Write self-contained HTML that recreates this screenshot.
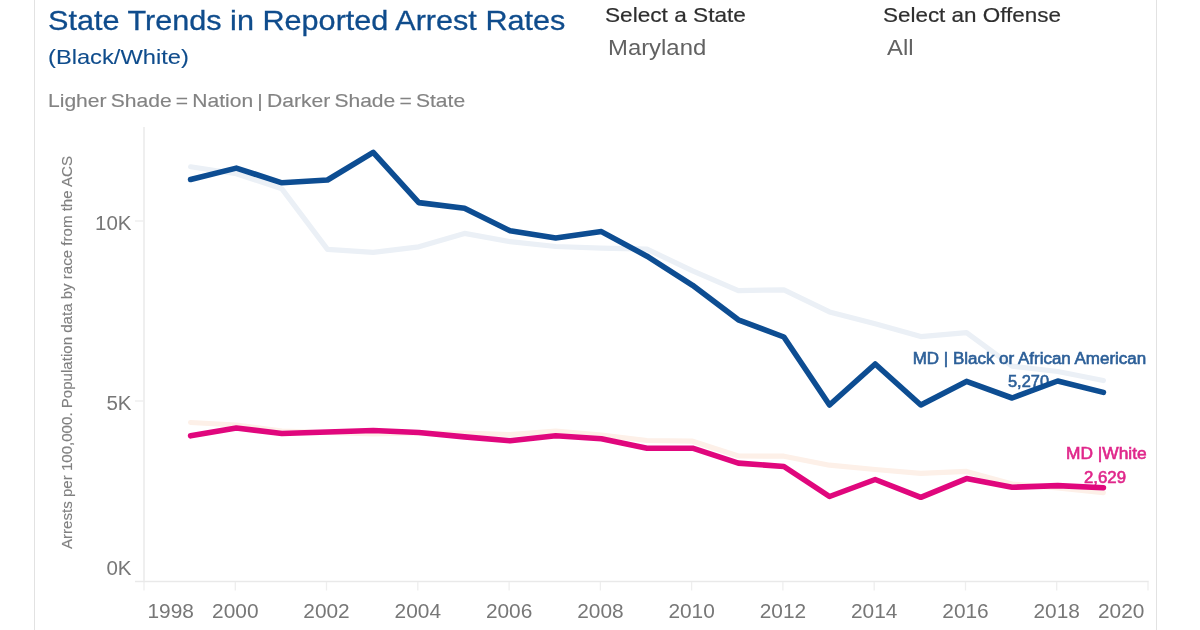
<!DOCTYPE html>
<html lang="en">
<head>
<meta charset="utf-8">
<title>State Trends in Reported Arrest Rates</title>
<style>
html,body{margin:0;padding:0;background:#fff;}
body{width:1200px;height:630px;overflow:hidden;position:relative;font-family:"Liberation Sans",Arial,sans-serif;}
.frame{position:absolute;left:34px;top:-2px;width:1122.5px;height:640px;border-left:1.5px solid #e2e2e2;border-right:1.5px solid #e2e2e2;box-sizing:border-box;}
.t{position:absolute;white-space:nowrap;line-height:1;margin:0;font-weight:400;transform-origin:0 0;}
#title{left:47.68px;top:5.92px;font-size:28.5px;color:#0f4c8c;-webkit-text-stroke:0.3px #0f4c8c;transform:scaleX(1.0743);}
#subtitle{left:47.62px;top:46.00px;font-size:21px;color:#0f4c8c;-webkit-text-stroke:0.1px #0f4c8c;transform:scaleX(1.1280);}
#legend{left:47.64px;top:90.94px;font-size:19px;color:#838383;word-spacing:-1.5px;-webkit-text-stroke:0.15px #838383;transform:scaleX(1.1084);}
#f1l{left:604.92px;top:4.36px;font-size:21px;color:#2e2e2e;-webkit-text-stroke:0.2px #2e2e2e;transform:scaleX(1.0775);}
#f1v{left:608.38px;top:37.53px;font-size:21.5px;color:#626262;transform:scaleX(1.1106);}
#f2l{left:882.68px;top:4.36px;font-size:21px;color:#2e2e2e;-webkit-text-stroke:0.2px #2e2e2e;transform:scaleX(1.0682);}
#f2v{left:887.00px;top:37.53px;font-size:21.5px;color:#626262;transform:scaleX(1.1087);}
svg{position:absolute;left:0;top:0;}
svg text{font-family:"Liberation Sans",Arial,sans-serif;}
</style>
</head>
<body>
<div class="frame"></div>
<h1 class="t" id="title">State Trends in Reported Arrest Rates</h1>
<h2 class="t" id="subtitle">(Black/White)</h2>
<div class="t" id="legend">Ligher Shade = Nation | Darker Shade = State</div>
<div class="t" id="f1l">Select a State</div>
<div class="t" id="f1v">Maryland</div>
<div class="t" id="f2l">Select an Offense</div>
<div class="t" id="f2v">All</div>
<svg width="1200" height="630" viewBox="0 0 1200 630">
  <g stroke="#e9e9e9" stroke-width="1.4" fill="none">
    <line x1="144" y1="127" x2="144" y2="582.2"/>
    <line x1="135" y1="581.5" x2="1148.7" y2="581.5"/>
    <line x1="135" y1="221" x2="144" y2="221" stroke="#eeeeee"/>
    <line x1="135" y1="401" x2="144" y2="401" stroke="#eeeeee"/>
    <line x1="144.0" y1="582" x2="144.0" y2="590.5" stroke="#eeeeee" stroke-width="1.3"/><line x1="235.3" y1="582" x2="235.3" y2="590.5" stroke="#eeeeee" stroke-width="1.3"/><line x1="326.5" y1="582" x2="326.5" y2="590.5" stroke="#eeeeee" stroke-width="1.3"/><line x1="417.8" y1="582" x2="417.8" y2="590.5" stroke="#eeeeee" stroke-width="1.3"/><line x1="509.1" y1="582" x2="509.1" y2="590.5" stroke="#eeeeee" stroke-width="1.3"/><line x1="600.4" y1="582" x2="600.4" y2="590.5" stroke="#eeeeee" stroke-width="1.3"/><line x1="691.6" y1="582" x2="691.6" y2="590.5" stroke="#eeeeee" stroke-width="1.3"/><line x1="782.9" y1="582" x2="782.9" y2="590.5" stroke="#eeeeee" stroke-width="1.3"/><line x1="874.2" y1="582" x2="874.2" y2="590.5" stroke="#eeeeee" stroke-width="1.3"/><line x1="965.5" y1="582" x2="965.5" y2="590.5" stroke="#eeeeee" stroke-width="1.3"/><line x1="1056.7" y1="582" x2="1056.7" y2="590.5" stroke="#eeeeee" stroke-width="1.3"/><line x1="1148.0" y1="582" x2="1148.0" y2="590.5" stroke="#eeeeee" stroke-width="1.3"/>
  </g>
  <g fill="none" stroke-width="5.2" stroke-linejoin="round" stroke-linecap="round">
    <polyline stroke="#ebf0f6" points="190.6,166.8 236.3,173.7 281.9,188.9 327.5,249.4 373.2,252.4 418.8,246.8 464.5,233.4 510.1,241.7 555.7,246.5 601.4,248.1 647.0,249.1 692.6,270.9 738.3,290.6 783.9,289.8 829.5,311.9 875.2,323.8 920.8,336.6 966.5,332.7 1012.1,366.2 1057.7,371.5 1103.4,380.5"/>
    <polyline stroke="#fdf0e8" points="190.6,422.5 236.3,425.0 281.9,431.0 327.5,432.5 373.2,433.8 418.8,433.0 464.5,433.0 510.1,434.5 555.7,431.2 601.4,435.0 647.0,440.5 692.6,441.2 738.3,456.0 783.9,456.2 829.5,465.2 875.2,469.5 920.8,473.3 966.5,471.4 1012.1,484.0 1057.7,488.0 1103.4,492.6"/>
  </g>
  <g font-size="20.5" fill="#777">
    <text x="147.5" y="617.5" textLength="46.4" lengthAdjust="spacingAndGlyphs">1998</text><text x="212.1" y="617.5" textLength="46.4" lengthAdjust="spacingAndGlyphs">2000</text><text x="303.3" y="617.5" textLength="46.4" lengthAdjust="spacingAndGlyphs">2002</text><text x="394.6" y="617.5" textLength="46.4" lengthAdjust="spacingAndGlyphs">2004</text><text x="485.9" y="617.5" textLength="46.4" lengthAdjust="spacingAndGlyphs">2006</text><text x="577.2" y="617.5" textLength="46.4" lengthAdjust="spacingAndGlyphs">2008</text><text x="668.4" y="617.5" textLength="46.4" lengthAdjust="spacingAndGlyphs">2010</text><text x="759.7" y="617.5" textLength="46.4" lengthAdjust="spacingAndGlyphs">2012</text><text x="851.0" y="617.5" textLength="46.4" lengthAdjust="spacingAndGlyphs">2014</text><text x="942.3" y="617.5" textLength="46.4" lengthAdjust="spacingAndGlyphs">2016</text><text x="1033.5" y="617.5" textLength="46.4" lengthAdjust="spacingAndGlyphs">2018</text><text x="1098.0" y="617.5" textLength="46.4" lengthAdjust="spacingAndGlyphs">2020</text>
  </g>
  <g font-size="20.5" fill="#777" text-anchor="end">
    <text x="131.5" y="230">10K</text>
    <text x="131.5" y="410">5K</text>
    <text x="131.5" y="574.7">0K</text>
  </g>
  <text transform="translate(72,352.5) rotate(-90)" text-anchor="middle" font-size="14.5" fill="#808080" stroke="#808080" stroke-width="0.15" textLength="393" lengthAdjust="spacingAndGlyphs">Arrests per 100,000. Population data by race from the ACS</text>
  <g font-size="16" fill="#2c5f98" stroke="#2c5f98" stroke-width="0.6">
    <text x="912.7" y="363.5" textLength="233.5" lengthAdjust="spacingAndGlyphs">MD | Black or African American</text>
    <text x="1008" y="386.7" textLength="41" lengthAdjust="spacingAndGlyphs">5,270</text>
  </g>
  <g font-size="16" fill="#e0278b" stroke="#e0278b" stroke-width="0.6">
    <text x="1066" y="458.6" textLength="80.6" lengthAdjust="spacingAndGlyphs">MD |White</text>
    <text x="1084" y="483.2" textLength="42" lengthAdjust="spacingAndGlyphs">2,629</text>
  </g>
  <g fill="none" stroke-width="5.6" stroke-linejoin="round" stroke-linecap="round">
    <polyline stroke="#0d4d92" points="190.6,179.5 236.3,168.1 281.9,182.8 327.5,180.0 373.2,152.4 418.8,202.6 464.5,208.3 510.1,230.8 555.7,237.9 601.4,231.6 647.0,256.2 692.6,285.3 738.3,319.8 783.9,337.0 829.5,405.0 875.2,364.0 920.8,405.0 966.5,381.4 1012.1,398.0 1057.7,381.0 1103.4,392.4"/>
    <polyline stroke="#e0077d" points="190.6,435.8 236.3,428.0 281.9,433.5 327.5,432.0 373.2,430.5 418.8,432.5 464.5,436.9 510.1,440.8 555.7,435.8 601.4,438.8 647.0,448.2 692.6,448.2 738.3,463.1 783.9,466.5 829.5,496.5 875.2,479.5 920.8,497.3 966.5,478.6 1012.1,487.3 1057.7,485.6 1103.4,487.7"/>
  </g>
</svg>
</body>
</html>
